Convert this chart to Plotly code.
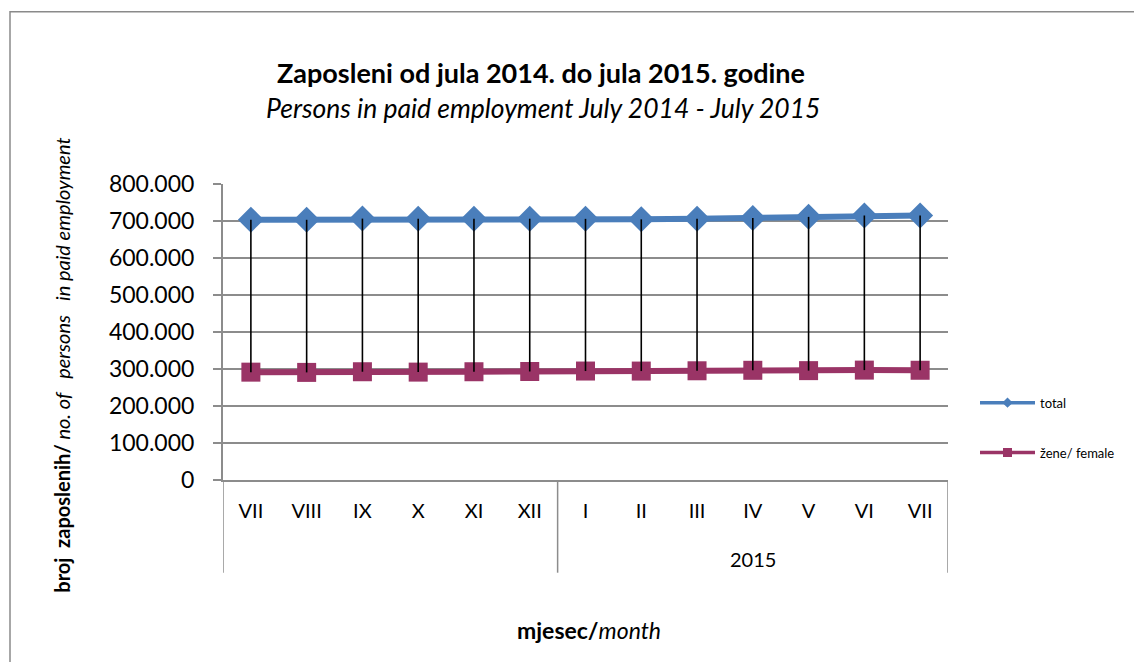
import plotly.graph_objects as go

# ---- data ----
years = ["2014", "2014", "2014", "2014", "2014", "2014", "2015", "2015", "2015", "2015", "2015", "2015", "2015"]
months = ["VII", "VIII", "IX", "X", "XI", "XII", "I", "II", "III", "IV", "V", "VI", "VII"]
total = [703500, 703300, 706500, 706300, 706000, 706200, 705800, 704500, 706000, 707800, 711200, 714900, 714700]
female = [291500, 290800, 292600, 291600, 292600, 293300, 294500, 294400, 295200, 296500, 295600, 297000, 296600]
y_ticks = [0, 100000, 200000, 300000, 400000, 500000, 600000, 700000, 800000]
group_labels = {"2014": "", "2015": "2015"}

W, H = 1134, 662
L, R, T, B = 223, 948, 184.3, 480.3


def px_x(p):
    return (p - L) / (R - L)


def px_y(p):
    return (B - p) / (B - T)


FONT = "Lato"
BLUE = "#4A7EBB"
PURPLE = "#9A3466"
GRID = "#8C8C8C"

idx = list(range(len(months)))
fig = go.Figure()

fig.add_trace(go.Scatter(
    x=idx, y=total, mode="lines+markers", name="total", showlegend=False,
    line=dict(color=BLUE, width=6),
    marker=dict(symbol="diamond", size=20, color=BLUE),
))
fig.add_trace(go.Scatter(
    x=idx, y=female, mode="lines+markers", name="žene/ female", showlegend=False,
    line=dict(color=PURPLE, width=6),
    marker=dict(symbol="square", size=19, color=PURPLE),
))
# high-low lines
fig.add_trace(go.Scatter(
    x=idx, y=female, mode="markers", showlegend=False, hoverinfo="skip",
    marker=dict(size=1, color="rgba(0,0,0,0)"),
    error_y=dict(type="data", symmetric=False,
                 array=[t - f for t, f in zip(total, female)],
                 arrayminus=[0] * len(female),
                 color="black", thickness=1.6, width=0),
))
# legend entries
fig.add_trace(go.Scatter(
    x=[None], y=[None], mode="lines+markers", name="total",
    line=dict(color=BLUE, width=3.5), marker=dict(symbol="diamond", size=8, color=BLUE),
    legendgroup="a",
))
fig.add_trace(go.Scatter(
    x=[None], y=[None], mode="lines+markers", name="žene/ female",
    line=dict(color=PURPLE, width=3.5), marker=dict(symbol="square", size=9, color=PURPLE),
    legendgroup="b",
))

# group dividers and group labels of the category axis
shapes = []
annotations = []
groups = []
for i, yv in enumerate(years):
    if not groups or groups[-1][0] != yv:
        groups.append([yv, i, i])
    else:
        groups[-1][2] = i
for g, a, b in groups:
    shapes.append(dict(type="line", xref="x", yref="paper", x0=a - 0.5, x1=a - 0.5,
                       y0=0, y1=px_y(573), line=dict(color=GRID, width=1.5)))
    if group_labels[g]:
        annotations.append(dict(text=group_labels[g], x=(a + b) / 2, y=px_y(559), xref="x", yref="paper",
                                xanchor="center", yanchor="middle",
                                showarrow=False, font=dict(size=20, family=FONT)))
last = groups[-1][2] + 0.5
shapes.append(dict(type="line", xref="x", yref="paper", x0=last, x1=last,
                   y0=0, y1=px_y(573), line=dict(color=GRID, width=1.5)))

shapes.append(dict(type="rect", xref="paper", yref="paper",
                   x0=px_x(10), x1=px_x(1150), y0=px_y(12), y1=px_y(680),
                   line=dict(color="#8A8A8A", width=1.5), fillcolor="rgba(0,0,0,0)", layer="below"))

annotations += [
    dict(text="<b>Zaposleni od jula 2014. do jula 2015. godine</b>", x=px_x(541), y=px_y(73),
         xref="paper", yref="paper", xanchor="center", yanchor="middle",
         showarrow=False, font=dict(size=27, family=FONT)),
    dict(text="<i>Persons in paid employment July 2014 - July 2015</i>", x=px_x(543), y=px_y(108),
         xref="paper", yref="paper", xanchor="center", yanchor="middle",
         showarrow=False, font=dict(size=26.5, family=FONT)),
    dict(text="<b>broj&nbsp;&nbsp;zaposlenih/</b><i> no. of&nbsp;&nbsp; persons&nbsp;&nbsp; in paid employment</i>",
         x=px_x(62), y=px_y(366), xref="paper", yref="paper", xanchor="center", yanchor="middle",
         showarrow=False, textangle=-90, font=dict(size=20, family=FONT)),
    dict(text="<b>mjesec/</b><i>month</i>", x=px_x(589), y=px_y(630),
         xref="paper", yref="paper", xanchor="center", yanchor="middle",
         showarrow=False, font=dict(size=23, family=FONT)),
]

fig.update_layout(
    width=W, height=H,
    margin=dict(l=L, r=W - R, t=T, b=H - B, pad=0),
    paper_bgcolor="white", plot_bgcolor="white",
    separators=",.",
    font=dict(family=FONT, color="black"),
    showlegend=True,
    legend=dict(x=px_x(975), y=px_y(388), xanchor="left", yanchor="top",
                font=dict(size=13, family=FONT), tracegroupgap=30, itemwidth=55,
                bgcolor="rgba(0,0,0,0)", itemsizing="trace"),
    xaxis=dict(range=[-0.5, len(months) - 0.5], tickvals=idx, ticktext=months,
               showgrid=False, showline=True, linecolor=GRID, linewidth=1.5,
               ticks="", tickfont=dict(size=20, family=FONT), ticklabelstandoff=12, zeroline=False),
    yaxis=dict(range=[0, 800000], tickvals=y_ticks, tickformat=",.0f",
               showgrid=True, gridcolor=GRID, gridwidth=2,
               showline=True, linecolor=GRID, linewidth=2,
               ticks="outside", ticklen=8, tickcolor=GRID, tickwidth=1.5, ticklabelstandoff=14,
               tickfont=dict(size=23, family=FONT), zeroline=False),
    shapes=shapes,
    annotations=annotations,
)

fig.write_html("out.html", config={"displayModeBar": False},
               post_script="document.body.style.margin='0';")
